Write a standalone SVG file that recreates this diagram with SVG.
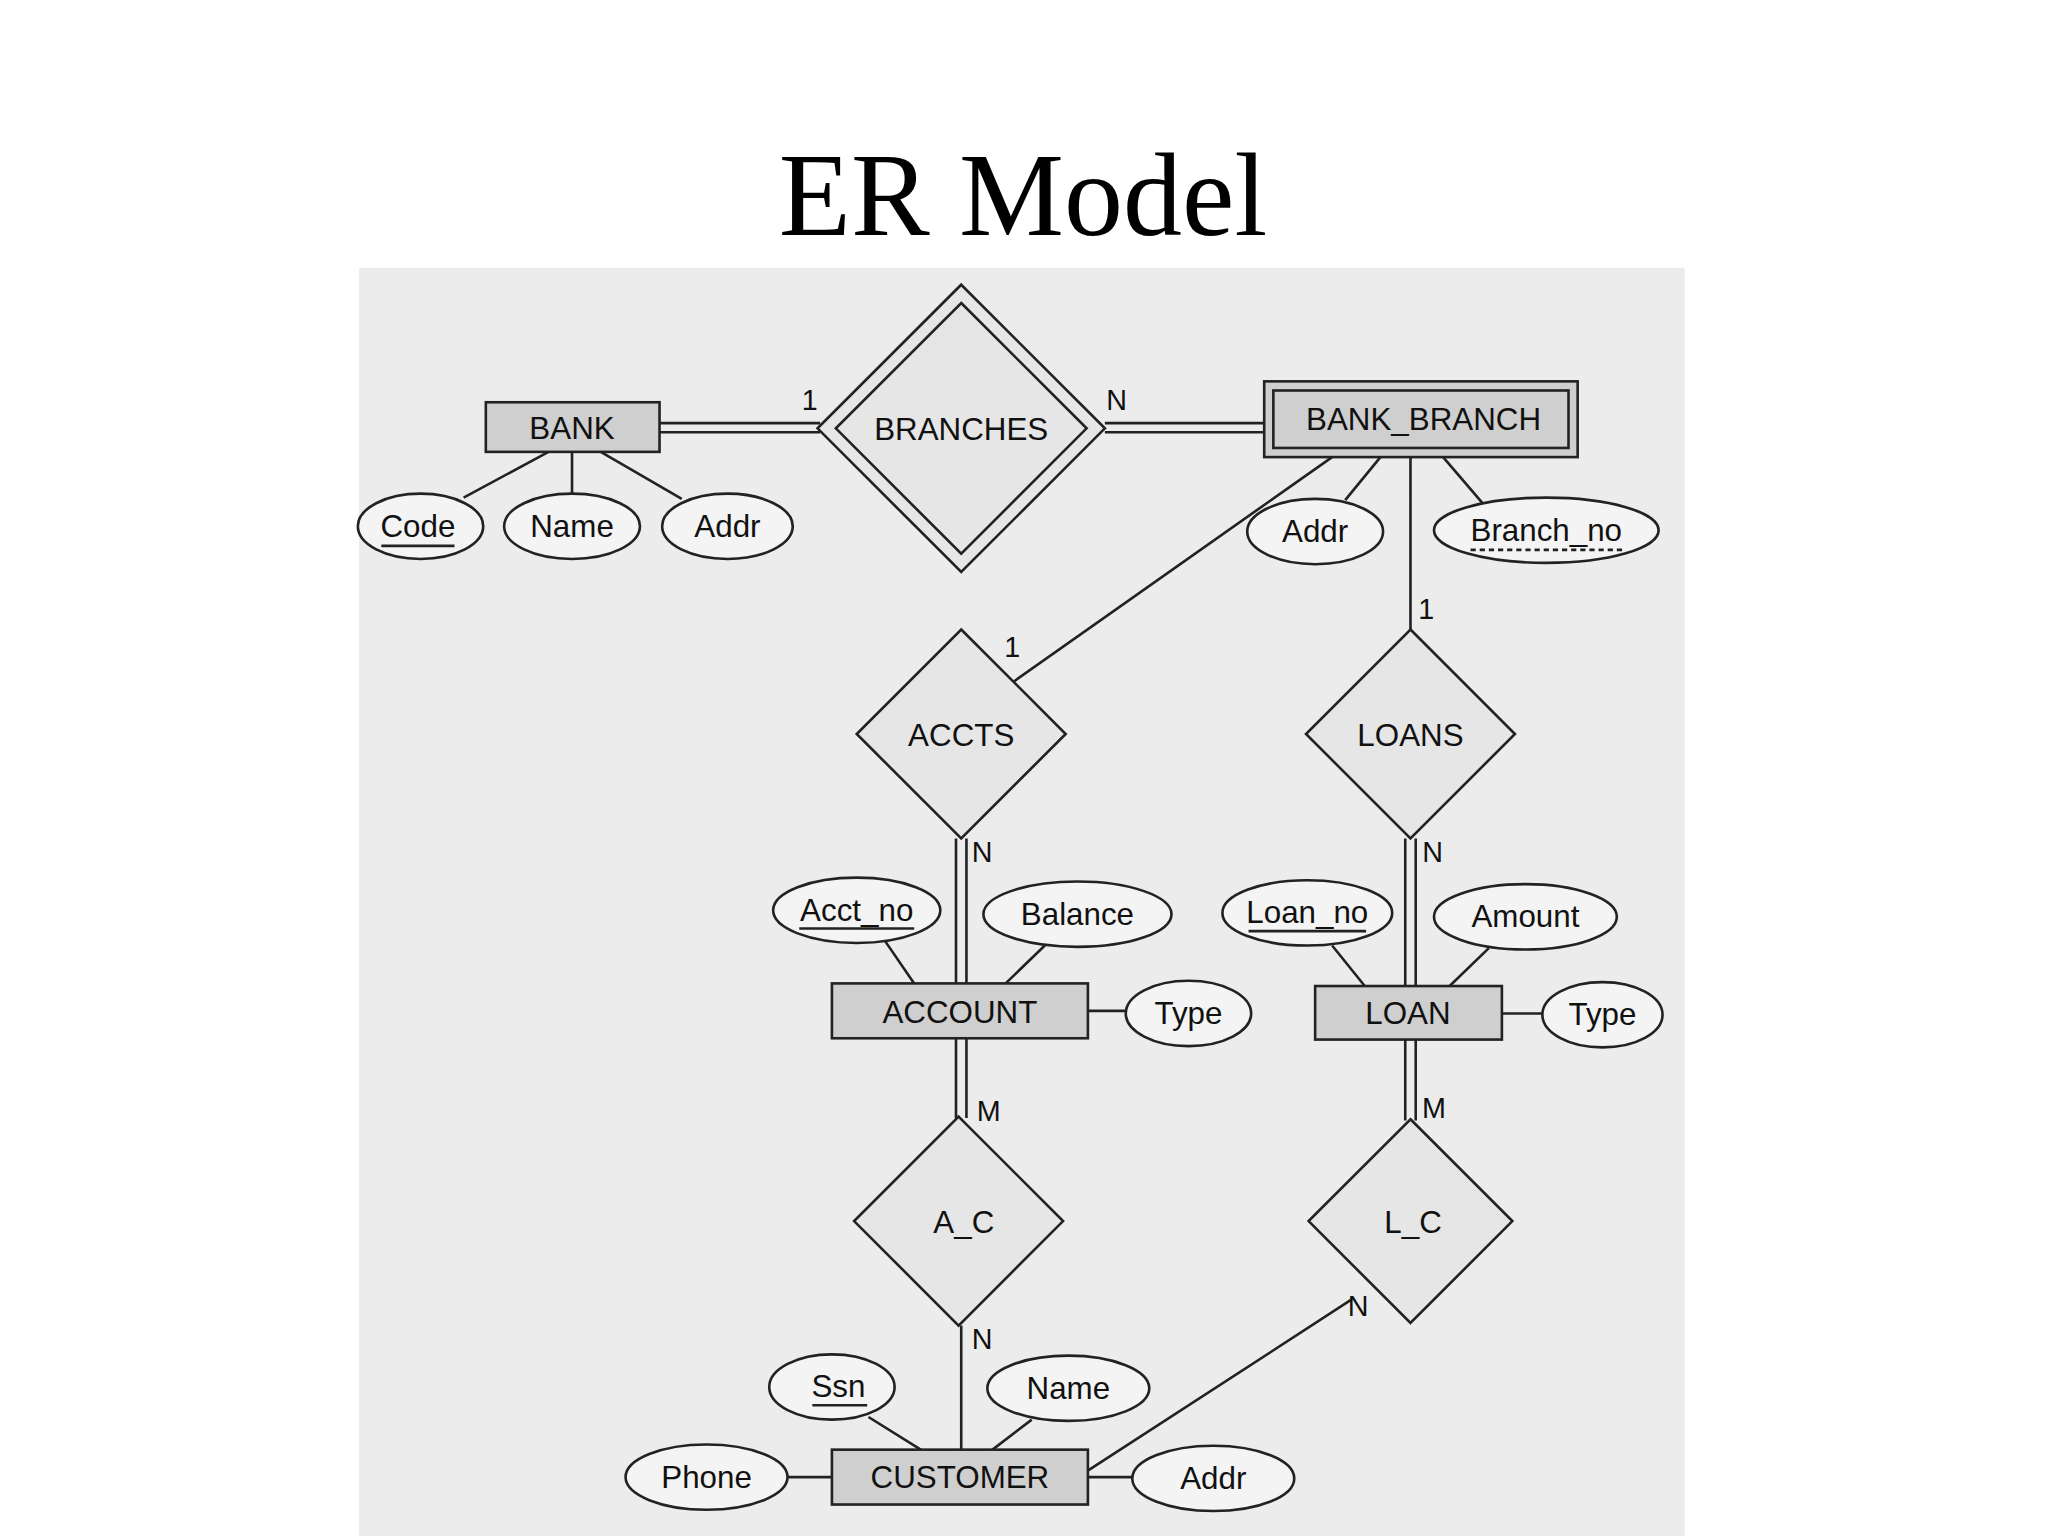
<svg xmlns="http://www.w3.org/2000/svg" width="2048" height="1536" viewBox="0 0 2048 1536">
<style>
.e{fill:#f4f4f4;stroke:#222;stroke-width:2}
.r{fill:#cfcfcf;stroke:#222;stroke-width:2}
.d{fill:#e6e6e6;stroke:#222;stroke-width:2}
.l{stroke:#222;stroke-width:2;fill:none}
text{font-family:"Liberation Sans",Arial,sans-serif;font-size:24px;fill:#111;text-anchor:middle}
.c{font-size:22px}
</style>
<rect width="2048" height="1536" fill="#fff"/>
<text x="1023" y="235" style="font-family:'Liberation Serif','Times New Roman',serif;font-size:118px;fill:#000">ER Model</text>
<g transform="scale(1.306)">
<rect x="275" y="205" width="1015" height="972" fill="#ececec"/>
<g id="connectors">
<path class="l" d="M505 324H628M505 331H628M846 324H968M846 331H968"/>
<path class="l" d="M420 346L355 381M438 346V378M460 346L522 382M1057 350L1030 383M1105 350L1135 385"/>
<path class="l" d="M1020 350L776 522M1080 350V482"/>
<path class="l" d="M732 642V753M740 642V753M1076 642V755M1084 642V755"/>
<path class="l" d="M678 721L700 753M800 724L770 753M1020 724L1045 755M1140 726L1110 755M833 774H862M1150 776H1181"/>
<path class="l" d="M732 795V856M740 795V856M1076 796V858M1084 796V858M736 1015V1110M1035 995L830 1128"/>
<path class="l" d="M665 1085L705 1110M790 1087L760 1110M603 1131H637M833 1131H867"/>
<text class="c" x="620" y="314">1</text><text class="c" x="855" y="314">N</text>
<text class="c" x="775" y="503">1</text><text class="c" x="1092" y="474">1</text>
<text class="c" x="752" y="660">N</text><text class="c" x="1097" y="660">N</text>
<text class="c" x="757" y="858">M</text><text class="c" x="1098" y="856">M</text>
<text class="c" x="752" y="1033">N</text><text class="c" x="1040" y="1008">N</text>
</g>
<g id="BANK"><rect class="r" x="372" y="308" width="133" height="38"/><text x="438" y="336">BANK</text></g>
<g id="BRANCHES"><polygon class="d" points="736,218 846,328 736,438 626,328"/><polygon class="d" points="736,232 832,328 736,424 640,328"/><text x="736" y="337">BRANCHES</text></g>
<g id="BANK_BRANCH"><rect class="r" x="968" y="292" width="240" height="58"/><rect class="r" x="975" y="299" width="226" height="44"/><text x="1090" y="329">BANK_BRANCH</text></g>
<g id="Code"><ellipse class="e" cx="322" cy="403" rx="48" ry="25"/><text x="320" y="411">Code</text><path class="l" d="M292 418H348"/></g>
<g id="BankName"><ellipse class="e" cx="438" cy="403" rx="52" ry="25"/><text x="438" y="411">Name</text></g>
<g id="BankAddr"><ellipse class="e" cx="557" cy="403" rx="50" ry="25"/><text x="557" y="411">Addr</text></g>
<g id="BBAddr"><ellipse class="e" cx="1007" cy="407" rx="52" ry="25"/><text x="1007" y="415">Addr</text></g>
<g id="Branch_no"><ellipse class="e" cx="1184" cy="406" rx="86" ry="25"/><text x="1184" y="414">Branch_no</text><path class="l" d="M1126 421H1244" stroke-dasharray="4 3"/></g>
<g id="ACCTS"><polygon class="d" points="736,482 816,562 736,642 656,562"/><text x="736" y="571">ACCTS</text></g>
<g id="LOANS"><polygon class="d" points="1080,482 1160,562 1080,642 1000,562"/><text x="1080" y="571">LOANS</text></g>
<g id="Acct_no"><ellipse class="e" cx="656" cy="697" rx="64" ry="25"/><text x="656" y="705">Acct_no</text><path class="l" d="M612 711H700"/></g>
<g id="Balance"><ellipse class="e" cx="825" cy="700" rx="72" ry="25"/><text x="825" y="708">Balance</text></g>
<g id="ACCOUNT"><rect class="r" x="637" y="753" width="196" height="42"/><text x="735" y="783">ACCOUNT</text></g>
<g id="AccType"><ellipse class="e" cx="910" cy="776" rx="48" ry="25"/><text x="910" y="784">Type</text></g>
<g id="Loan_no"><ellipse class="e" cx="1001" cy="699" rx="65" ry="25"/><text x="1001" y="707">Loan_no</text><path class="l" d="M956 713H1046"/></g>
<g id="Amount"><ellipse class="e" cx="1168" cy="702" rx="70" ry="25"/><text x="1168" y="710">Amount</text></g>
<g id="LOAN"><rect class="r" x="1007" y="755" width="143" height="41"/><text x="1078" y="784">LOAN</text></g>
<g id="LoanType"><ellipse class="e" cx="1227" cy="777" rx="46" ry="25"/><text x="1227" y="785">Type</text></g>
<g id="A_C"><polygon class="d" points="734,855 814,935 734,1015 654,935"/><text x="738" y="944">A_C</text></g>
<g id="L_C"><polygon class="d" points="1080,857 1158,935 1080,1013 1002,935"/><text x="1082" y="944">L_C</text></g>
<g id="Ssn"><ellipse class="e" cx="637" cy="1062" rx="48" ry="25"/><text x="642" y="1070">Ssn</text><path class="l" d="M622 1076H664"/></g>
<g id="CustName"><ellipse class="e" cx="818" cy="1063" rx="62" ry="25"/><text x="818" y="1071">Name</text></g>
<g id="Phone"><ellipse class="e" cx="541" cy="1131" rx="62" ry="25"/><text x="541" y="1139">Phone</text></g>
<g id="CustAddr"><ellipse class="e" cx="929" cy="1132" rx="62" ry="25"/><text x="929" y="1140">Addr</text></g>
<g id="CUSTOMER"><rect class="r" x="637" y="1110" width="196" height="42"/><text x="735" y="1139">CUSTOMER</text></g>
</g>
</svg>
